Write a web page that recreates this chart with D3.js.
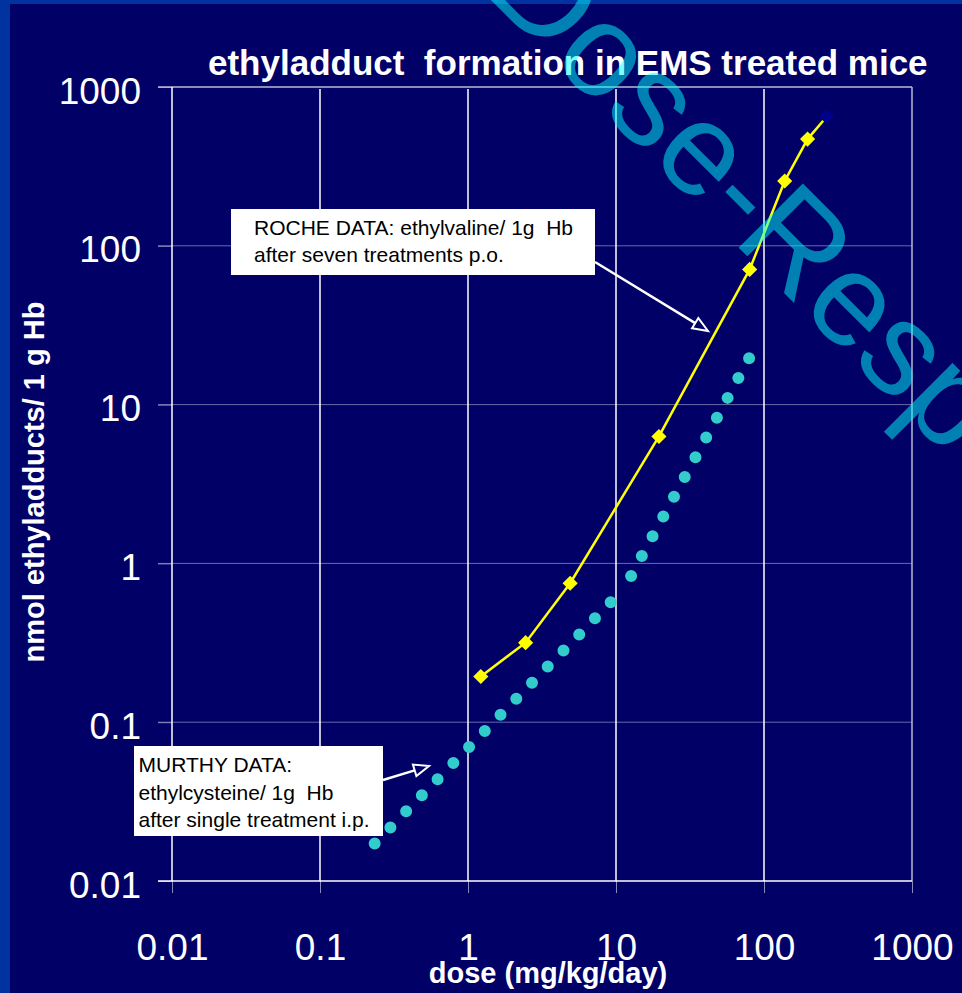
<!DOCTYPE html>
<html>
<head>
<meta charset="utf-8">
<script src="https://cdn.jsdelivr.net/npm/d3@7"></script>
<style>
  html, body { margin: 0; padding: 0; background: #000066; }
  svg { display: block; }
  text { font-family: "Liberation Sans", Arial, sans-serif; white-space: pre; }
</style>
</head>
<body>
<script>
// Dose axis and adduct axis ticks
const xTickValues = [0.01, 0.1, 1, 10, 100, 1000];
const xTickLabels = ["0.01", "0.1", "1", "10", "100", "1000"];
const yTickValues = [0.01, 0.1, 1, 10, 100, 1000];
const yTickLabels = ["0.01", "0.1", "1", "10", "100", "1000"];

// Roche: ethylvaline after seven p.o. treatments (mg/kg/day, nmol / 1 g Hb)
const rocheDose   = [1.22, 2.45, 4.9, 19.5, 80, 138, 197, 265];
const rocheAdduct = [0.194, 0.317, 0.75, 6.3, 71, 256, 470, 650];

// Murthy: ethylcysteine after a single i.p. treatment
const murthyDose   = [0.201, 11.4, 86.9];
const murthyAdduct = [0.0149, 0.698, 22.9];

const titleText = "ethyladduct  formation in EMS treated mice";
const xTitle = "dose (mg/kg/day)";
const yTitle = "nmol ethyladducts/ 1 g Hb";
const rocheNote = ["ROCHE DATA: ethylvaline/ 1g  Hb", "after seven treatments p.o."];
const murthyNote = ["MURTHY DATA:", "ethylcysteine/ 1g  Hb", "after single treatment i.p."];
const watermark = "Dose-Response";

const W = 962, H = 993;
const plotL = 172, plotR = 912, plotT = 87, plotB = 881;

const svg = d3.select("body").append("svg")
  .attr("width", W).attr("height", H);

// slide background with its blue edge
svg.append("rect").attr("width", W).attr("height", H).attr("fill", "#000066");
svg.append("rect").attr("width", 10).attr("height", H).attr("fill", "#0033a0");
svg.append("rect").attr("width", W).attr("height", 4).attr("fill", "#0033a0");

const x = d3.scaleLog().domain([0.01, 1000]).range([plotL, plotR]);
const y = d3.scaleLog().domain([0.01, 1000]).range([plotB, plotT]);

// horizontal gridlines (faint), running out to the tick stubs
svg.append("g").selectAll("line")
  .data(yTickValues.slice(1, -1))
  .join("line")
  .attr("x1", plotL - 14).attr("x2", plotR)
  .attr("y1", d => y(d)).attr("y2", d => y(d))
  .attr("stroke", "#6a6aa8").attr("stroke-width", 1);

// vertical gridlines (white)
svg.append("g").selectAll("line")
  .data(xTickValues.slice(1, -1))
  .join("line")
  .attr("x1", d => x(d)).attr("x2", d => x(d))
  .attr("y1", plotT + 2).attr("y2", plotB)
  .attr("stroke", "#ffffff").attr("stroke-width", 1.5);

// axes: ticks and labels
const xAxis = svg.append("g")
  .attr("transform", `translate(0,${plotB})`)
  .call(d3.axisBottom(x).tickValues(xTickValues)
    .tickFormat((d, i) => xTickLabels[i]).tickSize(12).tickSizeOuter(0));
xAxis.select(".domain").remove();
xAxis.selectAll(".tick line").attr("stroke", "#8a8ac0").attr("stroke-width", 1);
xAxis.selectAll(".tick text")
  .attr("y", 79).attr("dy", 0)
  .attr("fill", "#ffffff")
  .style("font-size", "37px");

const yAxis = svg.append("g")
  .attr("transform", `translate(${plotL},0)`)
  .call(d3.axisLeft(y).tickValues(yTickValues)
    .tickFormat((d, i) => yTickLabels[i]).tickSize(14).tickSizeOuter(0));
yAxis.select(".domain").remove();
yAxis.selectAll(".tick line").attr("stroke", "#8a8ac0").attr("stroke-width", 1);
yAxis.selectAll(".tick text")
  .attr("x", -31).attr("dy", 16)
  .attr("fill", "#ffffff")
  .style("font-size", "37px");

// plot frame
svg.append("line").attr("x1", plotL - 14).attr("x2", plotR).attr("y1", plotT).attr("y2", plotT)
  .attr("stroke", "#b8b8d8").attr("stroke-width", 1.5);
svg.append("line").attr("x1", plotR).attr("x2", plotR).attr("y1", plotT).attr("y2", plotB)
  .attr("stroke", "#b8b8d8").attr("stroke-width", 1.5);
svg.append("line").attr("x1", plotL).attr("x2", plotL).attr("y1", plotT).attr("y2", plotB)
  .attr("stroke", "#ffffff").attr("stroke-width", 1.5);
svg.append("line").attr("x1", plotL - 14).attr("x2", plotR).attr("y1", plotB).attr("y2", plotB)
  .attr("stroke", "#ffffff").attr("stroke-width", 1.5);

// annotation boxes
function note(lines, bx, by, bw, bh, tx, ty, lh) {
  const g = svg.append("g");
  g.append("rect").attr("x", bx).attr("y", by).attr("width", bw).attr("height", bh)
    .attr("fill", "#ffffff");
  g.selectAll("text").data(lines).join("text")
    .attr("x", tx).attr("y", (d, i) => ty + i * lh)
    .attr("fill", "#000000")
    .style("font-size", "21px")
    .text(d => d);
}
note(rocheNote, 231, 209, 364, 66, 254, 235, 27);
note(murthyNote, 134, 746, 249, 90, 138.5, 772, 27.5);

// arrows from the notes to their series
function arrow(x1, y1, x2, y2) {
  const a = Math.atan2(y2 - y1, x2 - x1);
  const L = 15, Wd = 6;
  const bx = x2 - L * Math.cos(a), by = y2 - L * Math.sin(a);
  svg.append("line").attr("x1", x1).attr("y1", y1).attr("x2", bx).attr("y2", by)
    .attr("stroke", "#ffffff").attr("stroke-width", 2.5);
  const p1 = [bx + Wd * Math.sin(a), by - Wd * Math.cos(a)];
  const p2 = [bx - Wd * Math.sin(a), by + Wd * Math.cos(a)];
  svg.append("path")
    .attr("d", `M${x2},${y2}L${p1}L${p2}Z`)
    .attr("fill", "#000066").attr("stroke", "#ffffff").attr("stroke-width", 2)
    .attr("stroke-linejoin", "miter");
}
arrow(595, 262, 708, 331);
arrow(383, 780, 429, 766);

// Murthy series: round-dotted line, pattern restarting on each segment
const murthyPts = murthyDose.map((d, i) => [x(d), y(murthyAdduct[i])]);
svg.append("g").selectAll("path")
  .data(d3.pairs(murthyPts))
  .join("path")
  .attr("d", d => d3.line()(d))
  .attr("fill", "none")
  .attr("stroke", "#33cccc")
  .attr("stroke-width", 12)
  .attr("stroke-linecap", "round")
  .attr("stroke-dasharray", "0 22.5")
  .attr("stroke-dashoffset", 8.5);

// Roche series: yellow line with diamond markers
const rochePts = rocheDose.map((d, i) => [x(d), y(rocheAdduct[i])]);
svg.append("path")
  .attr("d", d3.line()(rochePts))
  .attr("fill", "none")
  .attr("stroke", "#ffff00")
  .attr("stroke-width", 2.5);
const diamond = d3.symbol(d3.symbolSquare, 115);
svg.append("g").selectAll("path")
  .data(rochePts)
  .join("path")
  .attr("d", diamond)
  .attr("transform", d => `translate(${d[0]},${d[1]}) rotate(45)`)
  .attr("fill", (d, i) => i === rochePts.length - 1 ? "#00008b" : "#ffff00");

// titles
svg.append("text")
  .attr("x", 208).attr("y", 75)
  .attr("fill", "#ffffff")
  .style("font-size", "35px").style("font-weight", "bold")
  .text(titleText);
svg.append("text")
  .attr("x", 548).attr("y", 983)
  .attr("text-anchor", "middle")
  .attr("fill", "#ffffff")
  .style("font-size", "29px").style("font-weight", "bold")
  .text(xTitle);
svg.append("text")
  .attr("transform", "translate(44,482) rotate(-90)")
  .attr("text-anchor", "middle")
  .attr("fill", "#ffffff")
  .style("font-size", "29px").style("font-weight", "bold")
  .text(yTitle);

// translucent slide watermark
svg.append("text")
  .attr("transform", "translate(482,-9) rotate(45)")
  .attr("fill", "#00ffff")
  .attr("fill-opacity", 0.5)
  .style("font-size", "132px")
  .text(watermark);
</script>
</body>
</html>
